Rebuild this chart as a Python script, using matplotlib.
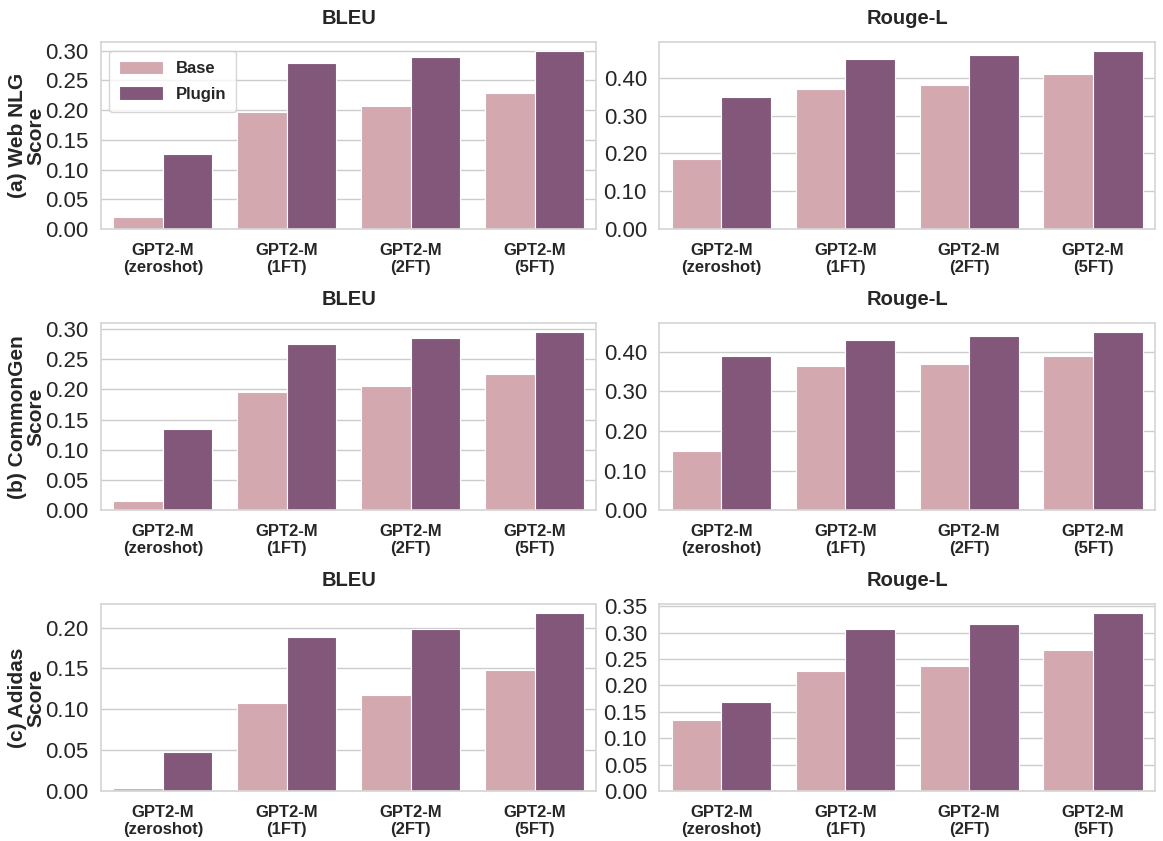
import numpy as np
import matplotlib
matplotlib.use("Agg")
import matplotlib.pyplot as plt
import seaborn as sns
from matplotlib.ticker import MultipleLocator, FormatStrFormatter

sns.set_theme(style="whitegrid")
plt.rcParams['font.family'] = ['Liberation Sans', 'DejaVu Sans']

models = ["GPT2-M\n(zeroshot)", "GPT2-M\n(1FT)", "GPT2-M\n(2FT)", "GPT2-M\n(5FT)"]
datasets = ["(a) Web NLG", "(b) CommonGen", "(c) Adidas"]
metrics = ["BLEU", "Rouge-L"]

webnlg_bleu_base = [0.020, 0.197, 0.207, 0.229]
webnlg_bleu_plugin = [0.127, 0.279, 0.289, 0.299]
webnlg_rouge_base = [0.185, 0.370, 0.380, 0.410]
webnlg_rouge_plugin = [0.350, 0.450, 0.460, 0.470]

commongen_bleu_base = [0.015, 0.195, 0.205, 0.225]
commongen_bleu_plugin = [0.135, 0.275, 0.285, 0.295]
commongen_rouge_base = [0.150, 0.365, 0.370, 0.390]
commongen_rouge_plugin = [0.390, 0.430, 0.440, 0.450]

adidas_bleu_base = [0.004, 0.108, 0.118, 0.148]
adidas_bleu_plugin = [0.048, 0.188, 0.198, 0.218]
adidas_rouge_base = [0.135, 0.227, 0.237, 0.267]
adidas_rouge_plugin = [0.168, 0.307, 0.317, 0.337]

table = [
    [(webnlg_bleu_base, webnlg_bleu_plugin), (webnlg_rouge_base, webnlg_rouge_plugin)],
    [(commongen_bleu_base, commongen_bleu_plugin), (commongen_rouge_base, commongen_rouge_plugin)],
    [(adidas_bleu_base, adidas_bleu_plugin), (adidas_rouge_base, adidas_rouge_plugin)],
]
steps = [[0.05, 0.1], [0.05, 0.1], [0.05, 0.05]]

base_color = "#d3a8af"
plugin_color = "#82577a"

fig, axes = plt.subplots(3, 2, figsize=(11.63, 8.41), dpi=100)
fig.subplots_adjust(left=0.0868, right=0.9931, top=0.9497, bottom=0.0595,
                    wspace=0.127, hspace=0.503)

x = np.arange(len(models))
w = 0.4
for i in range(3):
    for j in range(2):
        ax = axes[i, j]
        base, plugin = table[i][j]
        ax.bar(x - w / 2, base, w, color=base_color, edgecolor="white",
               linewidth=0.8, label="Base", zorder=2)
        ax.bar(x + w / 2, plugin, w, color=plugin_color, edgecolor="white",
               linewidth=0.8, label="Plugin", zorder=2)
        ax.set_xlim(-0.5, len(models) - 0.5)
        ax.set_ylim(0, max(plugin) * 1.05)
        ax.yaxis.set_major_locator(MultipleLocator(steps[i][j]))
        ax.yaxis.set_major_formatter(FormatStrFormatter('%.2f'))
        ax.xaxis.grid(False)
        ax.set_xticks(x)
        ax.set_xticklabels(models, fontsize=12, fontweight="bold")
        ax.tick_params(axis="y", labelsize=16, pad=3)
        ax.tick_params(axis="x", pad=4)
        ax.set_title(metrics[j], fontsize=14.5, fontweight="bold", pad=13)
        for s in ax.spines.values():
            s.set_color("#d6d6d6")
        if j == 0:
            ax.set_ylabel(datasets[i] + "\nScore", fontsize=15,
                          fontweight="bold", labelpad=0, linespacing=0.95)

leg = axes[0, 0].legend(loc="upper left", prop={"weight": "bold", "size": 12},
                        handlelength=2.6, handleheight=0.9, labelspacing=0.6,
                        borderpad=0.6, frameon=True)

fig.savefig("out.png", dpi=100)
